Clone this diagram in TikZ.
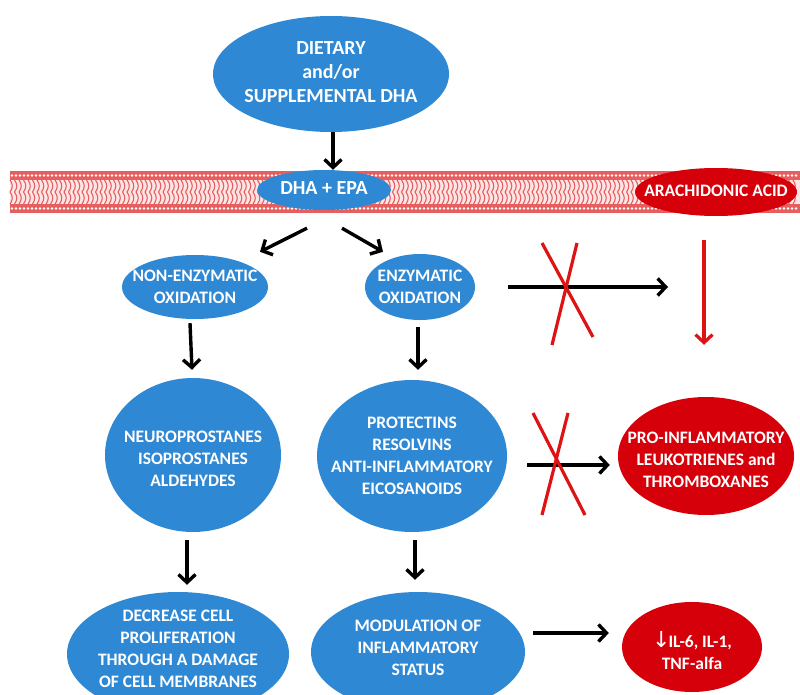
\documentclass[tikz,border=0pt]{standalone}
\usepackage{fontspec}
\setmainfont{Carlito}
\newfontfamily\symfont{DejaVu Sans}
\usetikzlibrary{shapes.geometric,arrows.meta}
\definecolor{nblue}{RGB}{46,136,212}
\definecolor{nred}{RGB}{214,0,10}
\definecolor{mred}{RGB}{230,95,95}
\definecolor{xred}{RGB}{222,20,20}
% text set with zero size so the ellipse keeps its given size
\newcommand\ztext[2][-4pt]{\makebox[0pt]{\smash{\raisebox{#1}{\begin{tabular}{@{}c@{}}#2\end{tabular}}}}}
\begin{document}
\begin{tikzpicture}[x=1pt,y=-1pt,
  blob/.style={ellipse, fill=nblue, text=white, inner sep=0pt,
    font=\bfseries\fontsize{17.5}{22}\selectfont},
  bigblob/.style={blob, font=\bfseries\fontsize{20}{24}\selectfont},
  rblob/.style={blob, fill=nred},
  arr/.style={-{Straight Barb[length=8pt,width=17pt]}, line width=3.4pt, black},
  rarr/.style={-{Straight Barb[length=8pt,width=17pt]}, line width=3.2pt, xred},
  xline/.style={line width=3.2pt, xred}]
\useasboundingbox (0,0) rectangle (800,695);
\clip (0,0) rectangle (800,695);
\fill[white] (0,0) rectangle (800,695);

% membrane
\fill[red!10] (10,171) rectangle (800,213);
\fill[mred] (10,171) rectangle (800,180);
\fill[mred] (10,204) rectangle (800,213);
\foreach \x in {12,16,...,798} {
  \fill[white] (\x,175.5) circle (1.3pt);
  \fill[white] (\x,208.5) circle (1.3pt);
}
\foreach \x in {10,14.5,...,796} {
  \draw[mred, line width=1.1pt] (\x,180) .. controls (\x+3,184) and (\x+3,188) .. (\x,192)
     .. controls (\x+3,196) and (\x+3,200) .. (\x,204);
}

% nodes
\node[bigblob, minimum width=236, minimum height=116] (diet) at (331,74) {\ztext[-5pt]{DIETARY\\and/or\\SUPPLEMENTAL DHA}};
\node[bigblob, minimum width=134, minimum height=40] (dha) at (324,190) {\ztext[-5pt]{DHA + EPA}};
\node[rblob, minimum width=162, minimum height=48] (ara) at (716,192) {\ztext{ARACHIDONIC ACID}};
\node[blob, minimum width=146, minimum height=64] (nonenz) at (195,287) {\ztext[-5pt]{NON-ENZYMATIC\\OXIDATION}};
\node[blob, minimum width=110, minimum height=66] (enz) at (420,287) {\ztext[-5pt]{ENZYMATIC\\OXIDATION}};
\node[blob, minimum width=176, minimum height=154] (neuro) at (193,455) {\ztext[-9pt]{NEUROPROSTANES\\ISOPROSTANES\\ALDEHYDES}};
\node[blob, minimum width=190, minimum height=152] (prot) at (412,456) {\ztext[-5pt]{PROTECTINS\\RESOLVINS\\ANTI-INFLAMMATORY\\EICOSANOIDS}};
\node[rblob, minimum width=176, minimum height=118] (proinf) at (706,456) {\ztext[-9pt]{PRO-INFLAMMATORY\\LEUKOTRIENES and\\THROMBOXANES}};
\node[blob, minimum width=222, minimum height=124] (decr) at (178,654) {\ztext[0pt]{DECREASE CELL\\PROLIFERATION\\THROUGH A DAMAGE\\OF CELL MEMBRANES}};
\node[blob, minimum width=214, minimum height=120] (modul) at (418,652) {\ztext[-1pt]{MODULATION OF\\INFLAMMATORY\\STATUS}};
\node[rblob, minimum width=140, minimum height=90] (il) at (692,647) {\ztext[-11pt]{{\symfont\mdseries\fontsize{22}{22}\selectfont ↓}\kern-2pt IL-6, IL-1,\\TNF-alfa}};

% connectors
\draw[arr] ([xshift=2]diet.south) -- ([xshift=2]diet.south |- dha.north);
\draw[arr] ([shift={(-17,18)}]dha.south) -- ([shift={(65,-3)}]nonenz.north);
\draw[arr] ([shift={(18,18)}]dha.south) -- ([shift={(-37,-2)}]enz.north);
\draw[arr] ([shift={(-5,4)}]nonenz.south) -- ([shift={(-3,-8)}]nonenz.south |- neuro.north);
\draw[arr] ([shift={(-2,7)}]enz.south) -- ([shift={(-2,-10)}]enz.south |- prot.north);
\draw[arr] ([shift={(-6,8)}]neuro.south) -- ([shift={(-6,-7)}]neuro.south |- decr.north);
\draw[arr] ([shift={(3,8)}]prot.south) -- ([shift={(3,-12)}]prot.south |- modul.north);
\coordinate (blk) at (668,287);
\draw[arr] ([xshift=33]enz.east) -- (blk);
\draw[rarr] ([shift={(-12,24)}]ara.south) -- ([shift={(-2,-52)}]proinf.north);
\draw[arr] ([shift={(20,9)}]prot.east) -- ([shift={(-8,9)}]proinf.west);
\draw[arr] ([shift={(8,-19)}]modul.east) -- ([shift={(-13,-14)}]il.west);

% crosses
\draw[xline] (542,243) -- (593,337);
\draw[xline] (577,243) -- (552,345);
\draw[xline] (533,413) -- (585,515);
\draw[xline] (568,413) -- (542,515);
\end{tikzpicture}
\end{document}
